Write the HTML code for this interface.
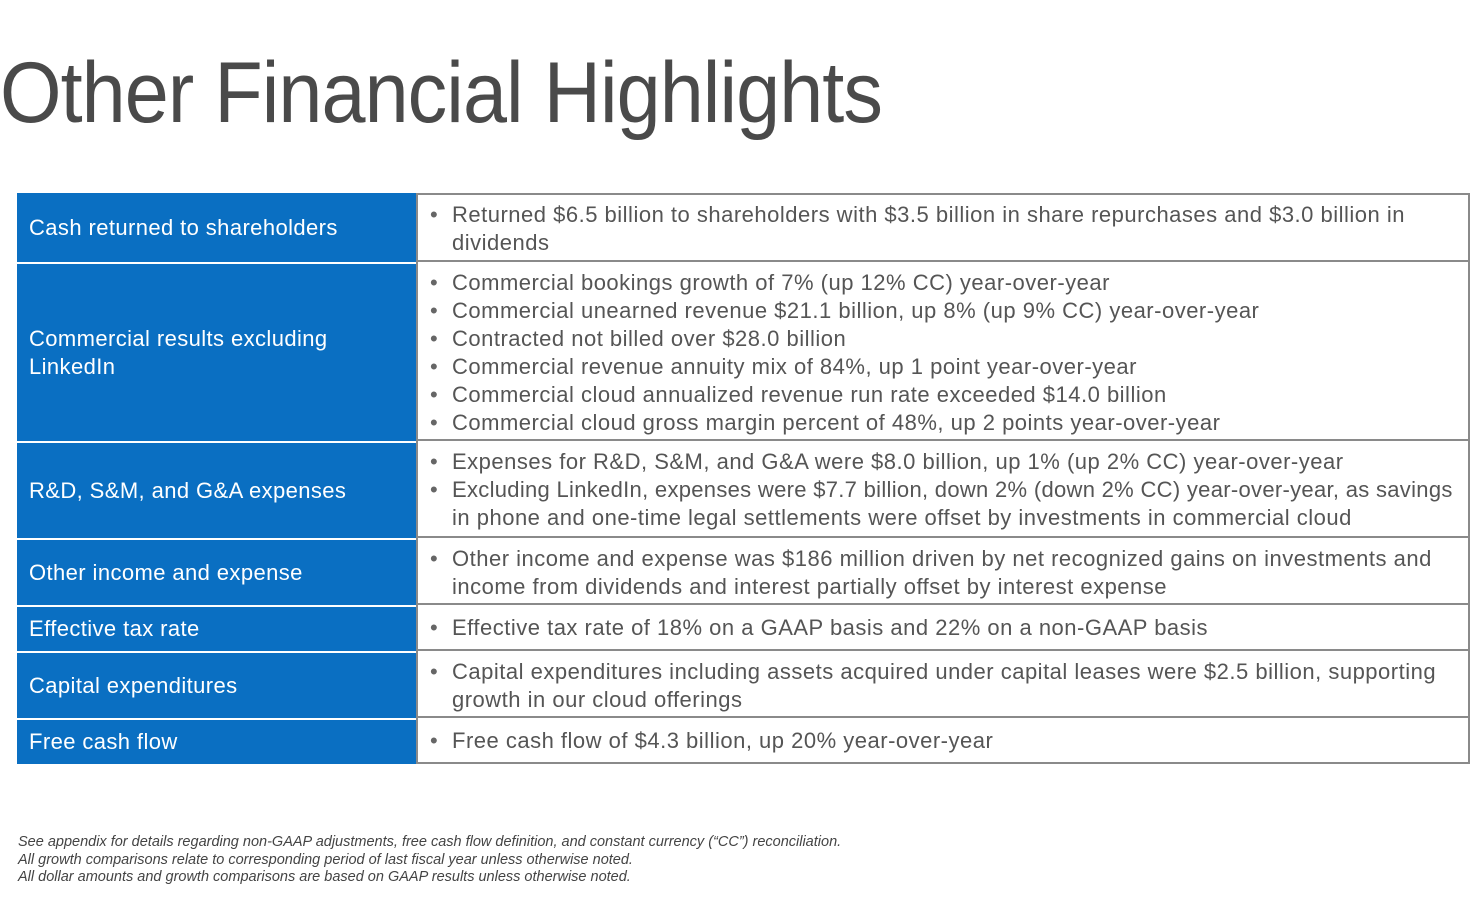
<!DOCTYPE html>
<html><head><meta charset="utf-8">
<style>
body{margin:0;width:1475px;height:898px;background:#fff;font-family:"Liberation Sans",sans-serif;color:#555;overflow:hidden;position:relative}
#title{position:absolute;left:0;top:44px;font-size:86px;font-weight:normal;color:#4a4a4a;white-space:nowrap;transform-origin:0 0;transform:scaleX(0.92);letter-spacing:-1px}
.row{position:absolute;left:17px;width:1453px}
.lab{position:absolute;left:0;top:0;bottom:0;width:399px;background:#0a6fc2;color:#fff;font-size:22px;letter-spacing:0.4px;display:flex;align-items:center;padding-left:12px;box-sizing:border-box;line-height:28px}
.cell{position:absolute;left:399px;right:0;top:0;bottom:0;border:2px solid #8a8a8a;box-sizing:border-box;background:#fff}
.row+.row .cell{border-top:none}
.cell ul{margin:0;padding:0;list-style:none;position:absolute;left:34px;top:6px;font-size:22px;letter-spacing:0.5px;line-height:28px;white-space:nowrap}
.row+.row .cell ul{top:7px}
.cell li{position:relative}
.cell li.b::before{content:"•";position:absolute;left:-22px;color:#666}
#notes{position:absolute;left:18px;top:834px;font-size:14.5px;font-style:italic;line-height:17.5px;color:#444}
</style></head><body>
<div id="title">Other Financial Highlights</div>

<div class="row" style="top:193px;height:69px">
<div class="lab">Cash returned to shareholders</div>
<div class="cell"><ul><li class="b">Returned $6.5 billion to shareholders with $3.5 billion in share repurchases and $3.0 billion in</li><li>dividends</li></ul></div></div>

<div class="row" style="top:262px;height:179px">
<div class="lab">Commercial results excluding<br>LinkedIn</div>
<div class="cell"><ul>
<li class="b">Commercial bookings growth of 7% (up 12% CC) year-over-year</li>
<li class="b">Commercial unearned revenue $21.1 billion, up 8% (up 9% CC) year-over-year</li>
<li class="b">Contracted not billed over $28.0 billion</li>
<li class="b">Commercial revenue annuity mix of 84%, up 1 point year-over-year</li>
<li class="b">Commercial cloud annualized revenue run rate exceeded $14.0 billion</li>
<li class="b">Commercial cloud gross margin percent of 48%, up 2 points year-over-year</li></ul></div></div>

<div class="row" style="top:441px;height:97px">
<div class="lab">R&amp;D, S&amp;M, and G&amp;A expenses</div>
<div class="cell"><ul>
<li class="b">Expenses for R&amp;D, S&amp;M, and G&amp;A were $8.0 billion, up 1% (up 2% CC) year-over-year</li>
<li class="b" style="letter-spacing:0.3px">Excluding LinkedIn, expenses were $7.7 billion, down 2% (down 2% CC) year-over-year, as savings</li>
<li>in phone and one-time legal settlements were offset by investments in commercial cloud</li></ul></div></div>

<div class="row" style="top:538px;height:67px">
<div class="lab">Other income and expense</div>
<div class="cell"><ul>
<li class="b">Other income and expense was $186 million driven by net recognized gains on investments and</li>
<li>income from dividends and interest partially offset by interest expense</li></ul></div></div>

<div class="row" style="top:605px;height:46px">
<div class="lab">Effective tax rate</div>
<div class="cell"><ul style="top:9px">
<li class="b">Effective tax rate of 18% on a GAAP basis and 22% on a non-GAAP basis</li></ul></div></div>

<div class="row" style="top:651px;height:67px">
<div class="lab">Capital expenditures</div>
<div class="cell"><ul>
<li class="b">Capital expenditures including assets acquired under capital leases were $2.5 billion, supporting</li>
<li>growth in our cloud offerings</li></ul></div></div>

<div class="row" style="top:718px;height:46px">
<div class="lab">Free cash flow</div>
<div class="cell"><ul style="top:9px">
<li class="b">Free cash flow of $4.3 billion, up 20% year-over-year</li></ul></div></div>

<div id="notes">See appendix for details regarding non-GAAP adjustments, free cash flow definition, and constant currency (“CC”) reconciliation.<br>All growth comparisons relate to corresponding period of last fiscal year unless otherwise noted.<br>All dollar amounts and growth comparisons are based on GAAP results unless otherwise noted.</div>
<script>
document.querySelectorAll('.row+.row .lab').forEach(function(e){e.style.borderTop='2px solid #fff';});
</script>
</body></html>
